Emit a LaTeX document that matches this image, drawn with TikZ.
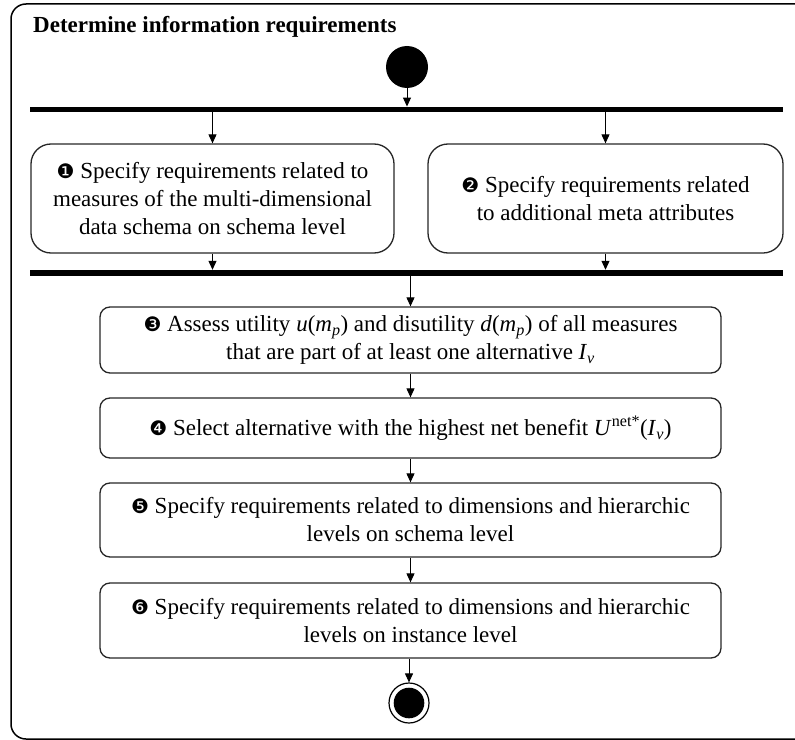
\documentclass[tikz,border=0pt]{standalone}
\usepackage{fontspec}
\setmainfont{Liberation Serif}
\newfontfamily\dingfont{DejaVu Sans}
\usetikzlibrary{arrows.meta}
\newcommand{\numb}[1]{{\dingfont\fontsize{20bp}{20bp}\selectfont #1}}
\newcommand{\itv}[1]{\textit{#1}}
\tikzset{
  boxtext/.style={font=\fontsize{23bp}{28bp}\selectfont, align=center, text=black},
  actbox/.style={draw=black!85, line width=1.3bp, rounded corners=10bp, inner sep=0pt, boxtext},
  bigbox/.style={actbox, rounded corners=20bp},
  syncbar/.style={fill=black, inner sep=0pt, minimum width=753bp},
  arr/.style={line width=1bp, -{Triangle[length=9bp, width=8bp]}},
}
\begin{document}
\begin{tikzpicture}[x=1bp, y=-1bp]
\useasboundingbox (0,0) rectangle (795,740);
% outer frame (right side runs beyond the page)
\draw[line width=1.5bp, rounded corners=15bp] (800,4) -- (11,4) -- (11,739) -- (800,739);
\node[anchor=base west, inner sep=0pt, font=\fontsize{23bp}{26bp}\selectfont\bfseries] (title) at (33,33) {Determine information requirements};
\node[circle, fill=black, inner sep=0pt, minimum size=42bp] (start) at (407,67) {};
\node[syncbar, minimum height=5.5bp] (bar1) at (406.5,109.5) {};
\node[bigbox, minimum width=363bp, minimum height=109bp] (b1) at (212.5,198.5)
  {\numb{❶} Specify requirements related to\\measures of the multi-dimensional\\data schema on schema level};
\node[bigbox, minimum width=355bp, minimum height=109bp] (b2) at (605.5,198.5)
  {\numb{❷} Specify requirements related\\to additional meta attributes};
\node[syncbar, minimum height=6bp] (bar2) at (406.5,273) {};
\node[actbox, minimum width=621bp, minimum height=66bp] (b3) at (410.5,340)
  {\numb{❸} Assess utility \itv{u}(\itv{m}\textsubscript{\itv{p}}) and disutility \itv{d}(\itv{m}\textsubscript{\itv{p}}) of all measures\\that are part of at least one alternative \itv{I}\textsubscript{\itv{v}}};
\node[actbox, minimum width=621bp, minimum height=60bp] (b4) at (410.5,428)
  {\numb{❹} Select alternative with the highest net benefit \itv{U}\textsuperscript{net*}(\itv{I}\textsubscript{\itv{v}})};
\node[actbox, minimum width=621bp, minimum height=74bp] (b5) at (410.5,520)
  {\numb{❺} Specify requirements related to dimensions and hierarchic\\levels on schema level};
\node[actbox, minimum width=621bp, minimum height=75bp] (b6) at (410.5,620.5)
  {\numb{❻} Specify requirements related to dimensions and hierarchic\\levels on instance level};
\node[circle, draw=black, line width=1.2bp, inner sep=0pt, minimum size=40bp,
  path picture={\fill[black] (path picture bounding box.center) circle[radius=15.3bp];}] (end) at (409,703) {};
% connectors
\draw[arr] (start.south) -- (start.south |- bar1.north);
\draw[arr] (b1.north |- bar1.south) -- (b1.north);
\draw[arr] (b2.north |- bar1.south) -- (b2.north);
\draw[arr] (b1.south) -- (b1.south |- bar2.north);
\draw[arr] (b2.south) -- (b2.south |- bar2.north);
\draw[arr] (b3.north |- bar2.south) -- (b3.north);
\draw[arr] (b3) -- (b4);
\draw[arr] (b4) -- (b5);
\draw[arr] (b5) -- (b6);
\draw[arr] (b6.south -| end.north) -- (end.north);
\end{tikzpicture}
\end{document}
